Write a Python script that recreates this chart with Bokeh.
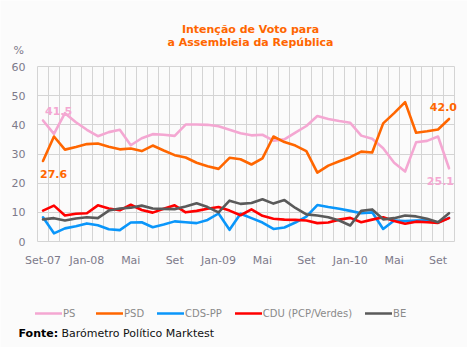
from bokeh.plotting import figure
from bokeh.models import FixedTicker, Label, Legend, LegendItem, Range1d, Grid, BoxAnnotation
from bokeh.embed import file_html
from bokeh.resources import INLINE

# Monthly barometer, Sep 2007 .. Oct 2010
months = ["Set-07", "Out-07", "Nov-07", "Dez-07", "Jan-08", "Fev-08", "Mar-08", "Abr-08",
          "Mai-08", "Jun-08", "Jul-08", "Ago-08", "Set-08", "Out-08", "Nov-08", "Dez-08",
          "Jan-09", "Fev-09", "Mar-09", "Abr-09", "Mai-09", "Jun-09", "Jul-09", "Ago-09",
          "Set-09", "Out-09", "Nov-09", "Dez-09", "Jan-10", "Fev-10", "Mar-10", "Abr-10",
          "Mai-10", "Jun-10", "Jul-10", "Ago-10", "Set-10", "Out-10"]

ps = [41.5, 36.9, 44.0, 40.9, 38.3, 36.1, 37.5, 38.3, 33.0, 35.4, 36.8, 36.6, 36.2,
      40.1, 40.1, 40.0, 39.5, 38.3, 37.1, 36.4, 36.6, 34.6, 35.0, 37.3, 39.6, 43.0,
      42.0, 41.3, 40.7, 36.3, 35.2, 32.0, 27.0, 24.0, 34.0, 34.5, 36.0, 25.1]

psd = [27.6, 36.0, 31.5, 32.4, 33.4, 33.6, 32.5, 31.6, 31.9, 31.0, 32.9, 31.2, 29.6,
       28.8, 27.0, 25.8, 24.9, 28.7, 28.2, 26.4, 28.5, 36.0, 34.1, 32.9, 31.0, 23.6,
       26.0, 27.5, 28.9, 30.8, 30.5, 40.5, 44.0, 47.8, 37.3, 37.8, 38.4, 42.0]

cds = [8.3, 2.8, 4.5, 5.2, 6.2, 5.6, 4.2, 3.9, 6.5, 6.6, 4.9, 5.8, 6.9,
       6.6, 6.3, 7.4, 9.6, 4.0, 9.5, 8.0, 6.5, 4.3, 4.8, 6.5, 8.5, 12.5,
       11.8, 11.2, 10.5, 9.7, 10.0, 4.3, 7.2, 7.0, 7.2, 7.3, 6.5, 8.1]

cdu = [10.6, 12.3, 8.9, 9.5, 9.7, 12.4, 11.3, 10.7, 12.6, 10.8, 9.9, 11.2, 12.4,
       10.0, 10.5, 11.2, 11.8, 10.6, 9.0, 11.0, 8.8, 7.8, 7.5, 7.4, 7.2, 6.3,
       6.5, 7.5, 8.1, 6.6, 7.5, 8.3, 7.0, 6.1, 6.8, 6.6, 6.4, 8.0]

be = [7.6, 8.0, 7.2, 7.9, 8.3, 8.0, 10.6, 11.3, 11.6, 12.3, 11.3, 11.2, 11.1,
      12.0, 13.1, 11.8, 10.0, 14.0, 12.9, 13.2, 14.5, 13.0, 14.2, 11.5, 9.3, 8.9,
      8.3, 7.2, 5.5, 10.5, 11.0, 7.6, 8.0, 8.9, 8.6, 7.8, 6.6, 9.7]

tick_idx = [0, 4, 8, 12, 16, 20, 24, 28, 32, 36]
tick_labels = ["Set-07", "Jan-08", "Mai", "Set", "Jan-09", "Mai", "Set", "Jan-10", "Mai", "Set"]
y_ticks = [0, 10, 20, 30, 40, 50, 60]

series_names = ["PS", "PSD", "CDS-PP", "CDU (PCP/Verdes)", "BE"]
series_colors = ["#F4A7D2", "#FF6600", "#0A96FA", "#FF0000", "#5A5A5A"]

x = list(range(len(months)))
FONT = "DejaVu Sans"
BG = "#fbfbfb"
W, H = 467, 347
# plot-area placement inside the canvas (pixels)
PL, PR, PT, PB = 37, 454, 66, 241
x0, x1 = -0.5, len(months) - 0.5
y0, y1 = 0, 60
sx = (PR - PL) / (x1 - x0)
sy = (PB - PT) / (y1 - y0)
xr = Range1d(x0 - PL / sx, x1 + (W - PR) / sx)
yr = Range1d(y0 - (H - PB) / sy, y1 + PT / sy)

p = figure(width=W, height=H, min_border_left=0, min_border_right=0,
           min_border_top=0, min_border_bottom=0, x_range=xr, y_range=yr,
           output_backend="svg", toolbar_location=None)
p.background_fill_color = BG
p.border_fill_color = BG
p.outline_line_color = None

p.xaxis.ticker = FixedTicker(ticks=tick_idx)
p.xaxis.major_label_overrides = {i: t for i, t in zip(tick_idx, tick_labels)}
p.yaxis.ticker = FixedTicker(ticks=y_ticks)
p.xaxis.fixed_location = y0
p.yaxis.fixed_location = x0
for ax in (p.xaxis, p.yaxis):
    ax.axis_line_color = None
    ax.major_tick_line_color = None
    ax.minor_tick_line_color = None
    ax.major_tick_out = 0
    ax.major_tick_in = 0
    ax.minor_tick_out = 0
    ax.major_label_text_font = FONT
    ax.major_label_text_font_size = "11px"
    ax.major_label_text_color = "#7d7a8a"
p.xaxis.major_label_standoff = 12
p.yaxis.major_label_standoff = 12

p.xgrid.ticker = FixedTicker(ticks=[i - 0.5 for i in range(len(months) + 1)])
p.ygrid.ticker = FixedTicker(ticks=y_ticks)
p.xgrid.grid_line_color = "#d4d4d4"
p.ygrid.grid_line_color = "#d4d4d4"
if "cross_bounds" in Grid.properties():
    p.xgrid.cross_bounds = (y0, y1)
    p.ygrid.cross_bounds = (x0, x1)
else:
    for kw in (dict(bottom=y1), dict(top=y0), dict(right=x0), dict(left=x1)):
        p.add_layout(BoxAnnotation(fill_color=BG, fill_alpha=1, line_color=None,
                                   level="underlay", **kw))

items = []
for name, data, col in zip(series_names, [ps, psd, cds, cdu, be], series_colors):
    r = p.line(x, data, line_color=col, line_width=2.6, line_join="round", line_cap="round")
    items.append(LegendItem(label=name, renderers=[r]))

legend = Legend(items=items, orientation="horizontal", location=(35, H - 319),
                glyph_width=27, glyph_height=12, label_standoff=1, spacing=13,
                padding=0, margin=0, border_line_color=None, background_fill_alpha=0,
                label_height=12,
                label_text_font=FONT, label_text_font_size="10px", label_text_color="#8a8a8a")
p.add_layout(legend)

def lab(**kw):
    base = dict(text_font=FONT, text_font_size="11px", text_baseline="middle")
    base.update(kw)
    p.add_layout(Label(**base))

def scr(cx, cy):
    # canvas (top-left origin) -> screen units measured from bottom-left
    return dict(x=cx, y=H - cy, x_units="screen", y_units="screen")

lab(**scr(250, 29), text="Intenção de Voto para", text_align="center",
    text_font_style="bold", text_color="#FF6600")
lab(**scr(250, 42), text="a Assembleia da República", text_align="center",
    text_font_style="bold", text_color="#FF6600")
lab(**scr(13, 50), text="%", text_color="#7d7a8a")

# value annotations at first / last points
lab(x=x[0], y=ps[0], x_offset=2, y_offset=9, text=f"{ps[0]:.1f}", text_font_style="bold",
    text_color="#F4A7D2")
lab(x=x[0], y=psd[0], x_offset=-3, y_offset=-13, text=f"{psd[0]:.1f}", text_font_style="bold",
    text_color="#FF6600")
lab(x=x[-1], y=psd[-1], x_offset=8, y_offset=12, text=f"{psd[-1]:.1f}", text_align="right",
    text_font_style="bold", text_color="#FF6600")
lab(x=x[-1], y=ps[-1], x_offset=5, y_offset=-13, text=f"{ps[-1]:.1f}", text_align="right",
    text_font_style="bold", text_color="#F4A7D2")

# source
lab(**scr(18, 333), text="Fonte:", text_font_style="bold", text_color="#000000")
lab(**scr(61, 333), text="Barómetro Político Marktest", text_color="#111111")

open("out.html", "w").write(file_html(p, INLINE))
